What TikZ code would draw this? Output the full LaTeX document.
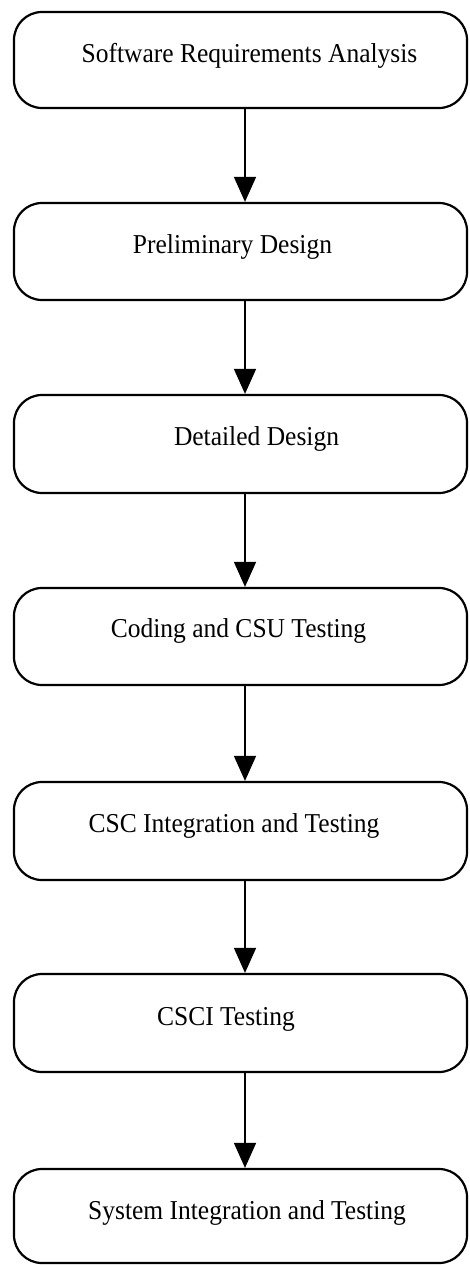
\documentclass[tikz,border=0pt]{standalone}
\usepackage{fontspec}
\setmainfont{Liberation Serif}
\usetikzlibrary{arrows.meta}
\begin{document}
\begin{tikzpicture}[x=1pt,y=-1pt,
  stage/.style={draw, line width=2.2pt, rounded corners=28pt, inner sep=0pt, minimum width=453pt},
  lbl/.style={font=\fontsize{25.5}{30}\selectfont, inner sep=0pt, anchor=base},
  flow/.style={line width=1.6pt, -{Triangle[width=22pt,length=25pt]}}]
\useasboundingbox (0,0) rectangle (469,1265);
\node[stage, minimum height=96pt] (b1) at (240.5,60) {};
\node[stage, minimum height=97pt] (b2) at (240.5,251.5) {};
\node[stage, minimum height=98pt] (b3) at (240.5,444) {};
\node[stage, minimum height=97pt] (b4) at (240.5,636.5) {};
\node[stage, minimum height=98pt] (b5) at (240.5,831) {};
\node[stage, minimum height=98pt] (b6) at (240.5,1023) {};
\node[stage, minimum height=94pt] (b7) at (240.5,1216) {};
\node[lbl] (t1) at (249.5,63) {\scalebox{1}[1.07]{Software Requirements Analysis}};
\node[lbl] (t2) at (232.5,253) {\scalebox{1}[1.07]{Preliminary Design}};
\node[lbl] (t3) at (256.5,445) {\scalebox{1}[1.07]{Detailed Design}};
\node[lbl] (t4) at (238.5,637) {\scalebox{1}[1.07]{Coding and CSU Testing}};
\node[lbl] (t5) at (234,832) {\scalebox{1}[1.07]{CSC Integration and Testing}};
\node[lbl] (t6) at (226,1025) {\scalebox{1}[1.07]{CSCI Testing}};
\node[lbl] (t7) at (247,1219) {\scalebox{1}[1.07]{System Integration and Testing}};
\foreach \a/\b in {b1/b2,b2/b3,b3/b4,b4/b5,b5/b6,b6/b7}
  \draw[flow] ([xshift=4.5pt]\a.south) -- ([xshift=4.5pt]\b.north);
\end{tikzpicture}
\end{document}
